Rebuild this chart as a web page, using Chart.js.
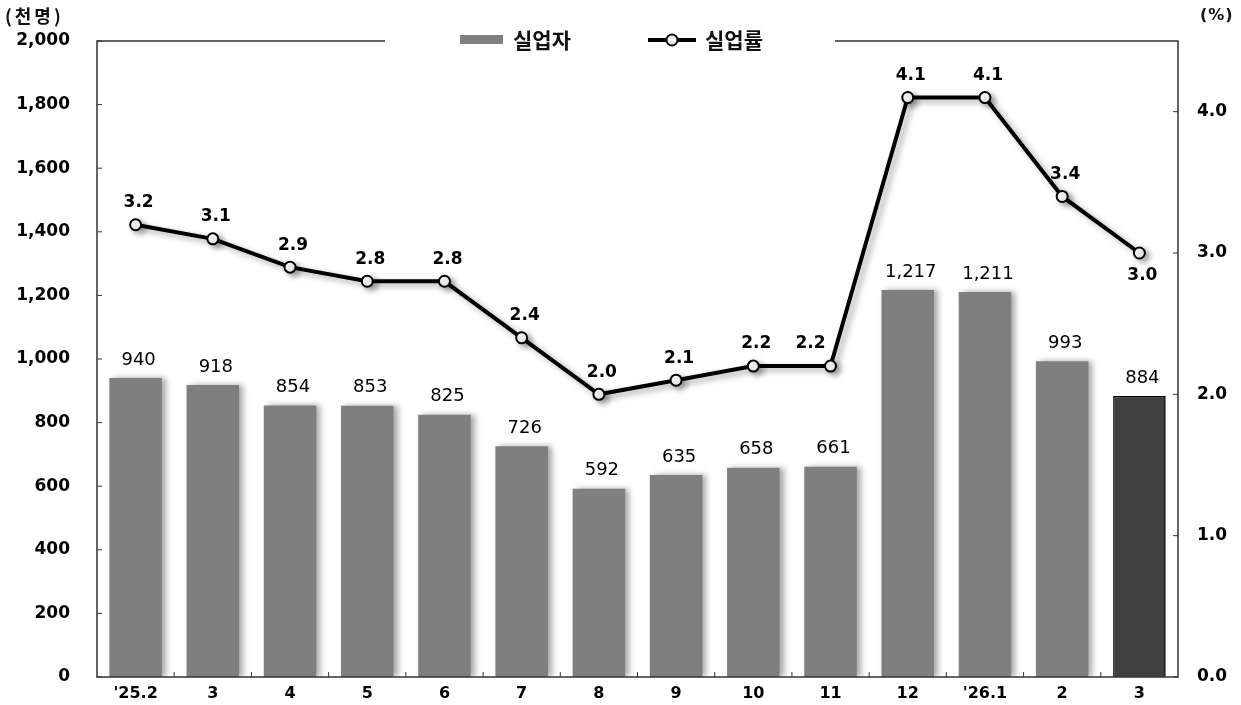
<!DOCTYPE html>
<html>
<head>
<meta charset="utf-8">
<script src="https://cdn.jsdelivr.net/npm/chart.js@4.4.1/dist/chart.umd.min.js"></script>
<style>
    html, body { margin: 0; padding: 0; background: #fff; }
    #jobs-chart { display: block; width: 1241px; height: 705px; }
</style>
</head>
<body>
<canvas id="jobs-chart" width="1241" height="705"></canvas>
<script>
// chart data
var months = ["'25.2", "3", "4", "5", "6", "7", "8", "9", "10", "11", "12", "'26.1", "2", "3"];
var unemployed = [940, 918, 854, 853, 825, 726, 592, 635, 658, 661, 1217, 1211, 993, 884];
var unemploymentRate = [3.2, 3.1, 2.9, 2.8, 2.8, 2.4, 2.0, 2.1, 2.2, 2.2, 4.1, 4.1, 3.4, 3.0];
var leftTicks = [0, 200, 400, 600, 800, 1000, 1200, 1400, 1600, 1800, 2000];
var rightTicks = [0, 1, 2, 3, 4];

var numFont = '"DejaVu Sans", "Liberation Sans", sans-serif';
var krFont = '"Noto Sans CJK KR", sans-serif';

var barColors = unemployed.map(function (v, i) {
    return i === unemployed.length - 1 ? '#404040' : '#7f7f7f';
});
var barBorders = unemployed.map(function (v, i) {
    return i === unemployed.length - 1 ? 1.5 : 0;
});

// shadow under bars and line
var shadowPlugin = {
    id: 'shadow',
    beforeDatasetDraw: function (chart, args) {
        var c = chart.ctx;
        c.save();
        c.shadowColor = 'rgba(0,0,0,0.35)';
        c.shadowBlur = 6;
        c.shadowOffsetX = 4;
        c.shadowOffsetY = args.index === 1 ? 3 : 0;
    },
    afterDatasetDraw: function (chart) {
        chart.ctx.restore();
    }
};

// frame, inward ticks, value labels, legend, unit labels
var decoPlugin = {
    id: 'deco',
    afterDatasetsDraw: function (chart) {
        var c = chart.ctx;
        var a = chart.chartArea;
        var yL = chart.scales.y;
        var yR = chart.scales.y1;

        c.save();
        c.strokeStyle = '#333';
        c.lineWidth = 1.5;
        c.beginPath();
        c.moveTo(385, a.top); c.lineTo(a.left, a.top); c.lineTo(a.left, a.bottom);
        c.lineTo(a.right, a.bottom); c.lineTo(a.right, a.top); c.lineTo(835, a.top);
        c.stroke();

        c.lineWidth = 1;
        leftTicks.forEach(function (t) {
            var py = yL.getPixelForValue(t);
            c.beginPath(); c.moveTo(a.left, py); c.lineTo(a.left + 5, py); c.stroke();
        });
        rightTicks.forEach(function (t) {
            var py = yR.getPixelForValue(t);
            c.beginPath(); c.moveTo(a.right, py); c.lineTo(a.right - 5, py); c.stroke();
        });
        var step = (a.right - a.left) / months.length;
        for (var i = 1; i < months.length; i++) {
            var px = a.left + step * i;
            c.beginPath(); c.moveTo(px, a.bottom); c.lineTo(px, a.bottom - 5); c.stroke();
        }

        // bar values
        c.fillStyle = '#000';
        c.textAlign = 'center';
        c.textBaseline = 'middle';
        c.font = '18px ' + numFont;
        chart.getDatasetMeta(0).data.forEach(function (bar, i) {
            c.fillText(unemployed[i].toLocaleString('en-US'), bar.x + 3, bar.y - 18);
        });

        // rate values (last one below, the one before the jump nudged left)
        c.font = 'bold 17px ' + numFont;
        chart.getDatasetMeta(1).data.forEach(function (pt, i) {
            var dy = i === unemploymentRate.length - 1 ? 23 : -22;
            var dx = i === 9 ? -20 : 3;
            c.fillText(unemploymentRate[i].toFixed(1), pt.x + dx, pt.y + dy);
        });

        // legend
        c.fillStyle = '#7f7f7f';
        c.fillRect(460, 35, 43, 9);
        c.fillStyle = '#111';
        c.textAlign = 'left';
        c.font = 'bold 21px ' + krFont;
        c.fillText('실업자', 513, 40);
        c.strokeStyle = '#000';
        c.lineWidth = 4;
        c.beginPath(); c.moveTo(648, 40); c.lineTo(696, 40); c.stroke();
        c.fillStyle = '#fff';
        c.lineWidth = 2;
        c.beginPath(); c.arc(672, 40, 5.5, 0, Math.PI * 2); c.fill(); c.stroke();
        c.fillStyle = '#111';
        c.fillText('실업률', 705, 40);

        // unit labels
        c.letterSpacing = '3px';
        c.font = 'bold 18px ' + krFont;
        c.fillText('(천명)', 5, 16);
        c.letterSpacing = '1px';
        c.font = 'bold 16px ' + numFont;
        c.fillText('(%)', 1200, 16);
        c.restore();
    }
};

// fixed axis sizes so the plot area sits where the original does
function fixY(width) {
    return function (s) {
        s.width = width;
        s.paddingTop = 0;
        s.paddingBottom = 0;
    };
}

var ctx = document.getElementById('jobs-chart');
var myChart = new Chart(ctx, {
    type: 'bar',
    data: {
        labels: months,
        datasets: [{
            type: 'bar',
            label: '실업자',
            data: unemployed,
            yAxisID: 'y',
            backgroundColor: barColors,
            borderColor: '#000',
            borderWidth: barBorders,
            barPercentage: 0.68,
            categoryPercentage: 1.0,
            order: 2
        }, {
            type: 'line',
            label: '실업률',
            data: unemploymentRate,
            yAxisID: 'y1',
            borderColor: '#000',
            borderWidth: 4,
            pointRadius: 5.5,
            pointBorderWidth: 2,
            pointBackgroundColor: '#fff',
            pointBorderColor: '#000',
            tension: 0,
            order: 1
        }]
    },
    options: {
        responsive: false,
        maintainAspectRatio: false,
        animation: false,
        devicePixelRatio: 1,
        layout: { padding: { top: 41, left: 0, right: 0, bottom: 0 } },
        plugins: {
            legend: { display: false },
            tooltip: { enabled: false }
        },
        scales: {
            x: {
                grid: { display: false, drawTicks: false, tickLength: 0 },
                border: { display: false },
                ticks: {
                    color: '#000',
                    padding: 7,
                    font: { size: 16, weight: 'bold', family: numFont }
                },
                afterFit: function (s) {
                    s.height = 28;
                    s.paddingLeft = 0;
                    s.paddingRight = 0;
                }
            },
            y: {
                position: 'left',
                min: 0,
                max: 2000,
                grid: { display: false, drawTicks: false, tickLength: 0 },
                border: { display: false },
                afterBuildTicks: function (s) {
                    s.ticks = leftTicks.map(function (v) { return { value: v }; });
                },
                ticks: {
                    color: '#000',
                    padding: 27,
                    font: { size: 17, weight: 'bold', family: numFont },
                    callback: function (v) { return v.toLocaleString('en-US'); }
                },
                afterFit: fixY(97)
            },
            y1: {
                position: 'right',
                min: 0,
                max: 4.5,
                grid: { display: false, drawTicks: false, tickLength: 0 },
                border: { display: false },
                afterBuildTicks: function (s) {
                    s.ticks = rightTicks.map(function (v) { return { value: v }; });
                },
                ticks: {
                    color: '#000',
                    padding: 19,
                    font: { size: 17, weight: 'bold', family: numFont },
                    callback: function (v) { return v.toFixed(1); }
                },
                afterFit: fixY(63)
            }
        }
    },
    plugins: [shadowPlugin, decoPlugin]
});
</script>
</body>
</html>
